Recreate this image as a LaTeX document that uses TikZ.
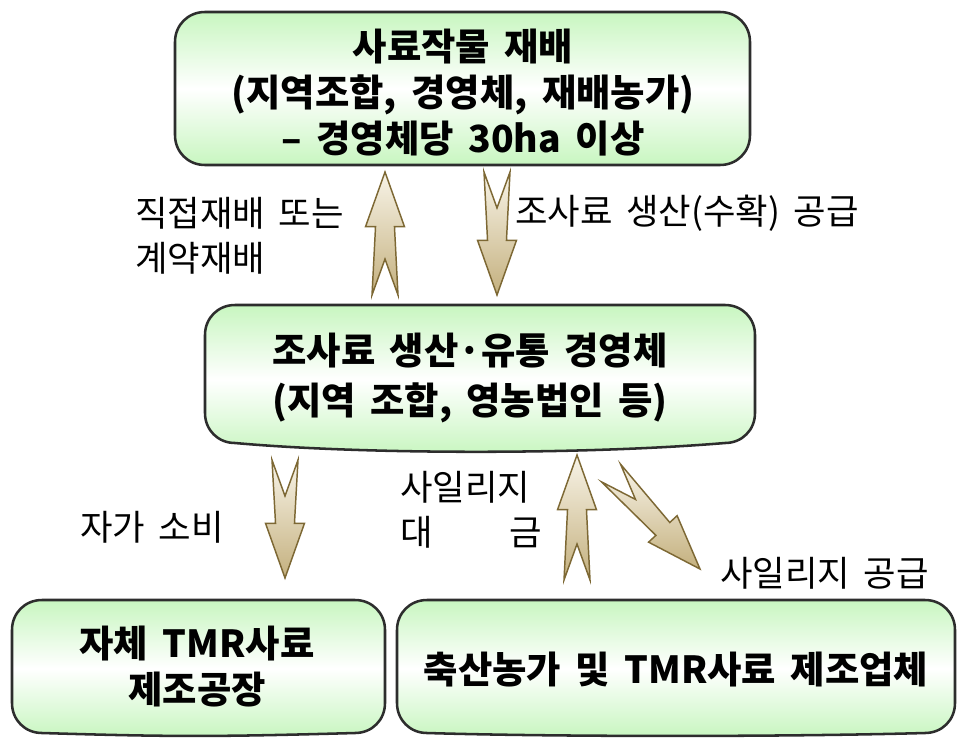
\documentclass[tikz,border=0pt]{standalone}
\usepackage{fontspec}
\setmainfont{Noto Sans CJK KR}[WordSpace=1.7]
\usetikzlibrary{calc,positioning}
\definecolor{boxgreen}{RGB}{200,246,192}
\definecolor{boxline}{RGB}{45,45,45}
\definecolor{goldlight}{RGB}{248,244,232}
\definecolor{golddark}{RGB}{196,176,126}
\definecolor{goldline}{RGB}{125,104,52}

% box with rounded corners and a slightly sagging bottom edge: x1,y1,x2,y2,sag
\newcommand{\wavebox}[5]{%
  \draw[boxshape] ({#1+30},#4) .. controls ({#1+13},#4) and (#1,{#4-13}) .. (#1,{#4-30})
    -- (#1,{#2+30}) .. controls (#1,{#2+13}) and ({#1+13},#2) .. ({#1+30},#2)
    -- ({#3-30},#2) .. controls ({#3-13},#2) and (#3,{#2+13}) .. (#3,{#2+30})
    -- (#3,{#4-30}) .. controls (#3,{#4-13}) and ({#3-13},#4) .. ({#3-30},#4)
    .. controls ({#3-170},{#4+1.3*#5}) and ({#1+160},{#4+1.3*#5}) .. cycle;}

% fat arrow with a split tail: #1 tail, #2 tip
\newcommand{\goldarrow}[2]{%
  \coordinate (gb) at ($(#2)!41pt!(#1)$);
  \draw[goldshape] (#2) -- ($(gb)!14.6pt!90:(#2)$) -- ($(gb)!7.1pt!90:(#2)$)
    -- ($(#1)!9.75pt!90:(#2)$) -- ($(#1)!27pt!(#2)$) -- ($(#1)!9.75pt!-90:(#2)$)
    -- ($(gb)!7.1pt!-90:(#2)$) -- ($(gb)!14.6pt!-90:(#2)$) -- cycle;}

\begin{document}
\begin{tikzpicture}[x=0.75pt,y=-0.75pt,
    boxshape/.style={draw=boxline,line width=1.9pt,
      top color=boxgreen,bottom color=boxgreen,middle color=white},
    goldshape/.style={draw=goldline,line width=1.1pt,top color=goldlight,bottom color=golddark},
    boxtext/.style={align=center,inner sep=0pt,font=\bfseries\fontsize{28}{34.5}\selectfont},
    note/.style={align=left,inner sep=0pt,anchor=west,font=\fontsize{26.5}{33.7}\selectfont}]
  \useasboundingbox (0,0) rectangle (959,739);

  % boxes
  \wavebox{175}{12}{750}{165}{0}
  \wavebox{205}{305}{755}{443}{9}
  \wavebox{12}{600}{385}{733}{3}
  \wavebox{397}{600}{955}{733}{3}

  \node[boxtext] (crop) at (463,93) {사료작물 재배\\(지역조합, 경영체, 재배농가)\\– 경영체당 30ha 이상};
  \node[boxtext,font=\bfseries\fontsize{28}{38}\selectfont] (feed) at (470,378)
    {조사료 생산·유통 경영체\\(지역 조합, 영농법인 등)};
  \node[boxtext] (tmr) at (197,667) {자체 TMR사료\\제조공장};
  \node[boxtext] (farm) at (676,670) {축산농가 및 TMR사료 제조업체};

  % arrows
  \coordinate (upT) at (385,295);   \coordinate (upH) at (385,172);
  \coordinate (dnT) at (497,172);   \coordinate (dnH) at (497,295);
  \coordinate (selfT) at (285,460); \coordinate (selfH) at (285,578);
  \coordinate (payT) at (577,580);  \coordinate (payH) at (577,455);
  \coordinate (silT) at (611,473);  \coordinate (silH) at (700,569);
  \goldarrow{upT}{upH}
  \goldarrow{dnT}{dnH}
  \goldarrow{selfT}{selfH}
  \goldarrow{payT}{payH}
  \goldarrow{silT}{silH}

  % labels
  \node[note] (direct) at (135,236) {직접재배 또는\\계약재배};
  \node[note] (supply) at (515,213) {조사료 생산(수확) 공급};
  \node[note] (self) at (80,527) {자가 소비};
  \node[note] (payment) at (400,510) {사일리지\\\makebox[4em][l]{대\hfill 금}};
  \node[note] (silage) at (720,573) {사일리지 공급};
\end{tikzpicture}
\end{document}
